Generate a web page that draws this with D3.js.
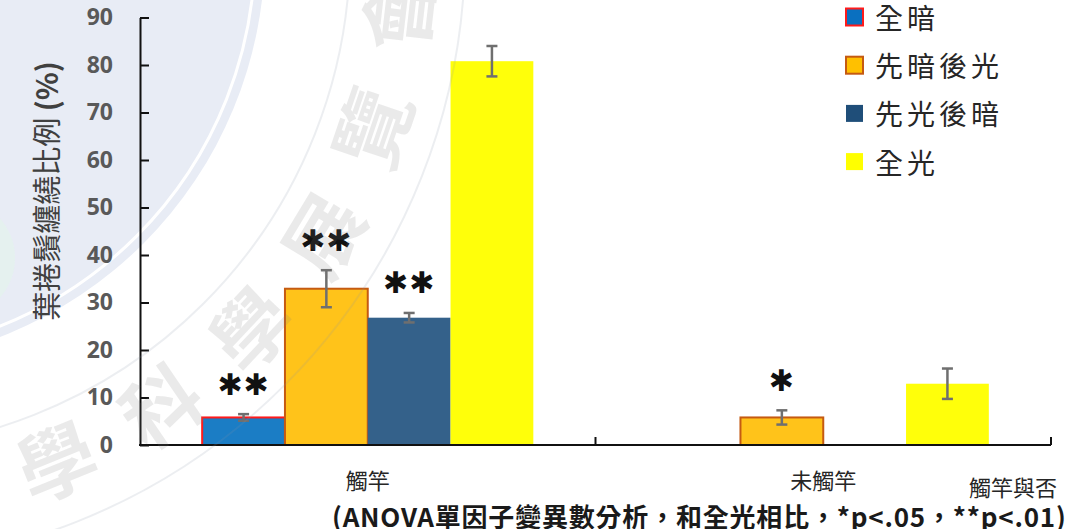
<!DOCTYPE html>
<html lang="zh-Hant-TW">
<head>
<meta charset="utf-8">
<script src="https://cdn.jsdelivr.net/npm/d3@7"></script>
<style>
  html, body { margin: 0; padding: 0; background: #fff; }
  svg { display: block; }
</style>
</head>
<body>
<svg id="chart" width="1066" height="529" lang="zh-Hant-TW"></svg>
<script>
// Tendril coiling ratio (%) by light treatment, split by whether the tendril touched the pole
const categories = ['觸竿', '未觸竿'];
const seriesNames = ['全暗', '先暗後光', '先光後暗', '全光'];

// means (%) per category, one array per treatment
const darkOnly = [5.8, 0];
const darkThenLight = [32.9, 5.8];
const lightThenDark = [26.8, 0];
const lightOnly = [80.8, 12.9];

// standard errors per category
const darkOnlyErr = [0.7, 0];
const darkThenLightErr = [3.9, 1.5];
const lightThenDarkErr = [1.0, 0];
const lightOnlyErr = [3.2, 3.2];

// significance marks versus 全光
const darkOnlySig = ['**', ''];
const darkThenLightSig = ['**', '*'];
const lightThenDarkSig = ['**', ''];
const lightOnlySig = ['', ''];

const yTicks = [0, 10, 20, 30, 40, 50, 60, 70, 80, 90];
const watermarkChars = ['學', '科', '學', '展', '覽', '會'];

const valuesBySeries = [darkOnly, darkThenLight, lightThenDark, lightOnly];
const errBySeries = [darkOnlyErr, darkThenLightErr, lightThenDarkErr, lightOnlyErr];
const sigBySeries = [darkOnlySig, darkThenLightSig, lightThenDarkSig, lightOnlySig];

const fills = ['#1b7dc5', '#ffc31a', '#34618a', '#ffff0a'];
const strokes = ['#ff1a1a', '#c55a11', 'none', 'none'];
const swatchFills = ['#0a70c0', '#ffc000', '#1f4e79', '#ffff00'];

const rows = [];
seriesNames.forEach((s, si) => {
  categories.forEach((c, ci) => {
    rows.push({
      series: s, si, category: c,
      value: valuesBySeries[si][ci],
      err: errBySeries[si][ci],
      sig: sigBySeries[si][ci]
    });
  });
});

const svg = d3.select('#chart');
const plotLeft = 140, plotRight = 1051, plotTop = 17.5, plotBottom = 445;

// --- background emblem (pale disc behind everything) ---
const cx = -150, cy = -50;
const bg = svg.append('g');
bg.append('circle').attr('cx', cx).attr('cy', cy).attr('r', 415)
  .attr('fill', '#e8ecf5');
bg.append('circle').attr('cx', cx).attr('cy', cy).attr('r', 405)
  .attr('fill', 'none').attr('stroke', '#ffffff').attr('stroke-width', 3);
bg.append('circle').attr('cx', -45).attr('cy', 258).attr('r', 60)
  .attr('fill', '#e3f2ee').attr('opacity', 0.8);

// --- scales ---
const x0 = d3.scaleBand().domain(categories).range([plotLeft, plotRight]);
const gapFrac = 0.1365;
const x1 = d3.scaleBand().domain(seriesNames)
  .range([x0.bandwidth() * gapFrac, x0.bandwidth() * (1 - gapFrac)]);
const y = d3.scaleLinear().domain([0, 90]).range([plotBottom, plotTop]);

// --- bars ---
const barG = svg.append('g');
barG.selectAll('rect')
  .data(rows.filter(d => d.value > 0))
  .join('rect')
  .attr('x', d => x0(d.category) + x1(d.series))
  .attr('y', d => y(d.value))
  .attr('width', x1.bandwidth())
  .attr('height', d => y(0) - y(d.value))
  .attr('fill', d => fills[d.si])
  .attr('stroke', d => strokes[d.si])
  .attr('stroke-width', 2);

// --- error bars ---
const errG = svg.append('g').attr('stroke', '#6f6f6f').attr('stroke-width', 2.5).attr('fill', 'none');
rows.filter(d => d.err > 0).forEach(d => {
  const xc = x0(d.category) + x1(d.series) + x1.bandwidth() / 2;
  const y1 = y(d.value + d.err), y2 = y(d.value - d.err);
  errG.append('line').attr('x1', xc).attr('x2', xc).attr('y1', y1).attr('y2', y2);
  errG.append('line').attr('x1', xc - 5.5).attr('x2', xc + 5.5).attr('y1', y1).attr('y2', y1);
  errG.append('line').attr('x1', xc - 5.5).attr('x2', xc + 5.5).attr('y1', y2).attr('y2', y2);
});

// --- significance marks ---
svg.append('g').selectAll('text')
  .data(rows.filter(d => d.sig))
  .join('text')
  .attr('x', d => x0(d.category) + x1(d.series) + x1.bandwidth() / 2)
  .attr('y', d => y(d.value + d.err) - 30)
  .attr('text-anchor', 'middle')
  .attr('dominant-baseline', 'central')
  .attr('font-family', 'DejaVu Sans')
  .attr('font-weight', 700)
  .attr('font-size', 30)
  .attr('letter-spacing', 1)
  .attr('fill', '#111')
  .text(d => d.sig.replace(/\*/g, '\u2731'));

// --- y axis ---
const yAxis = d3.axisLeft(y).tickValues(yTicks).tickSize(-9).tickSizeOuter(0).tickPadding(27);
const yg = svg.append('g').attr('transform', `translate(${plotLeft},0)`).call(yAxis);
yg.select('.domain').attr('stroke', '#111').attr('stroke-width', 2);
yg.selectAll('.tick line').attr('stroke', '#111').attr('stroke-width', 2);
yg.selectAll('.tick text')
  .attr('font-family', 'Open Sans, sans-serif')
  .attr('font-weight', 700)
  .attr('font-size', 23)
  .attr('fill', '#595959');

// --- x axis ---
const xg = svg.append('g');
xg.append('line')
  .attr('x1', plotLeft - 1).attr('x2', plotRight)
  .attr('y1', plotBottom).attr('y2', plotBottom)
  .attr('stroke', '#111').attr('stroke-width', 2);
xg.selectAll('line.sep')
  .data(categories)
  .join('line')
  .attr('class', 'sep')
  .attr('x1', d => x0(d) + x0.bandwidth()).attr('x2', d => x0(d) + x0.bandwidth())
  .attr('y1', plotBottom).attr('y2', plotBottom - 8)
  .attr('stroke', '#111').attr('stroke-width', 2);
xg.selectAll('text.cat')
  .data(categories)
  .join('text')
  .attr('class', 'cat')
  .attr('x', d => x0(d) + x0.bandwidth() / 2)
  .attr('y', 479)
  .attr('text-anchor', 'middle')
  .attr('dominant-baseline', 'central')
  .attr('font-family', 'Noto Sans CJK TC')
  .attr('font-size', 22)
  .attr('fill', '#262626')
  .text(d => d);

// axis title (x)
svg.append('text')
  .attr('x', 1057).attr('y', 486)
  .attr('text-anchor', 'end')
  .attr('dominant-baseline', 'central')
  .attr('font-family', 'Noto Sans CJK TC')
  .attr('font-size', 22)
  .attr('fill', '#262626')
  .text('觸竿與否');

// axis title (y)
const yt = svg.append('text')
  .attr('transform', 'translate(45,191) rotate(-90)')
  .attr('text-anchor', 'middle')
  .attr('dominant-baseline', 'central')
  .attr('font-family', 'Noto Sans CJK TC')
  .attr('font-size', 29)
  .attr('fill', '#404040');
yt.append('tspan').text('葉捲鬚纏繞比例 ');
yt.append('tspan').attr('font-weight', 700).text('(%)');

// footnote
svg.append('text')
  .attr('x', 332).attr('y', 515)
  .attr('dominant-baseline', 'central')
  .attr('font-family', 'Noto Sans CJK TC')
  .attr('font-weight', 700)
  .attr('font-size', 26)
  .attr('letter-spacing', 0.8)
  .attr('fill', '#1a1a1a')
  .text('(ANOVA單因子變異數分析，和全光相比，*p<.05，**p<.01)');

// --- legend ---
const legend = svg.append('g');
const legendRows = legend.selectAll('g')
  .data(seriesNames)
  .join('g')
  .attr('transform', (d, i) => `translate(846,${17 + i * 48.2})`);
legendRows.append('rect')
  .attr('x', 0).attr('y', -8.5).attr('width', 17).attr('height', 17)
  .attr('fill', (d, i) => swatchFills[i])
  .attr('stroke', (d, i) => strokes[i] === 'none' ? 'none' : strokes[i])
  .attr('stroke-width', 2);
legendRows.append('text')
  .attr('x', 29).attr('y', 0)
  .attr('dominant-baseline', 'central')
  .attr('font-family', 'Noto Sans CJK TC')
  .attr('font-size', 28)
  .attr('letter-spacing', 4)
  .attr('fill', '#262626')
  .text(d => d);

// --- emblem overlay: faint rings and lettering ---
const fg = svg.append('g').attr('pointer-events', 'none');
[500, 615].forEach(r => {
  fg.append('circle').attr('cx', cx).attr('cy', cy).attr('r', r)
    .attr('fill', 'none').attr('stroke', '#8a96aa').attr('stroke-opacity', 0.16).attr('stroke-width', 2);
});
const charR = 548;
const startAngle = 68, stepAngle = -12.3;
watermarkChars.forEach((ch, i) => {
  const a = startAngle + i * stepAngle;
  const rad = a * Math.PI / 180;
  const px = cx + charR * Math.cos(rad);
  const py = cy + charR * Math.sin(rad);
  fg.append('text')
    .attr('transform', `translate(${px},${py}) rotate(${a - 90})`)
    .attr('text-anchor', 'middle')
    .attr('dominant-baseline', 'central')
    .attr('font-family', 'Noto Sans CJK TC')
    .attr('font-weight', 700)
    .attr('font-size', 78)
    .attr('fill', '#7a7a7a')
    .attr('fill-opacity', 0.16)
    .text(ch);
});
</script>
</body>
</html>
